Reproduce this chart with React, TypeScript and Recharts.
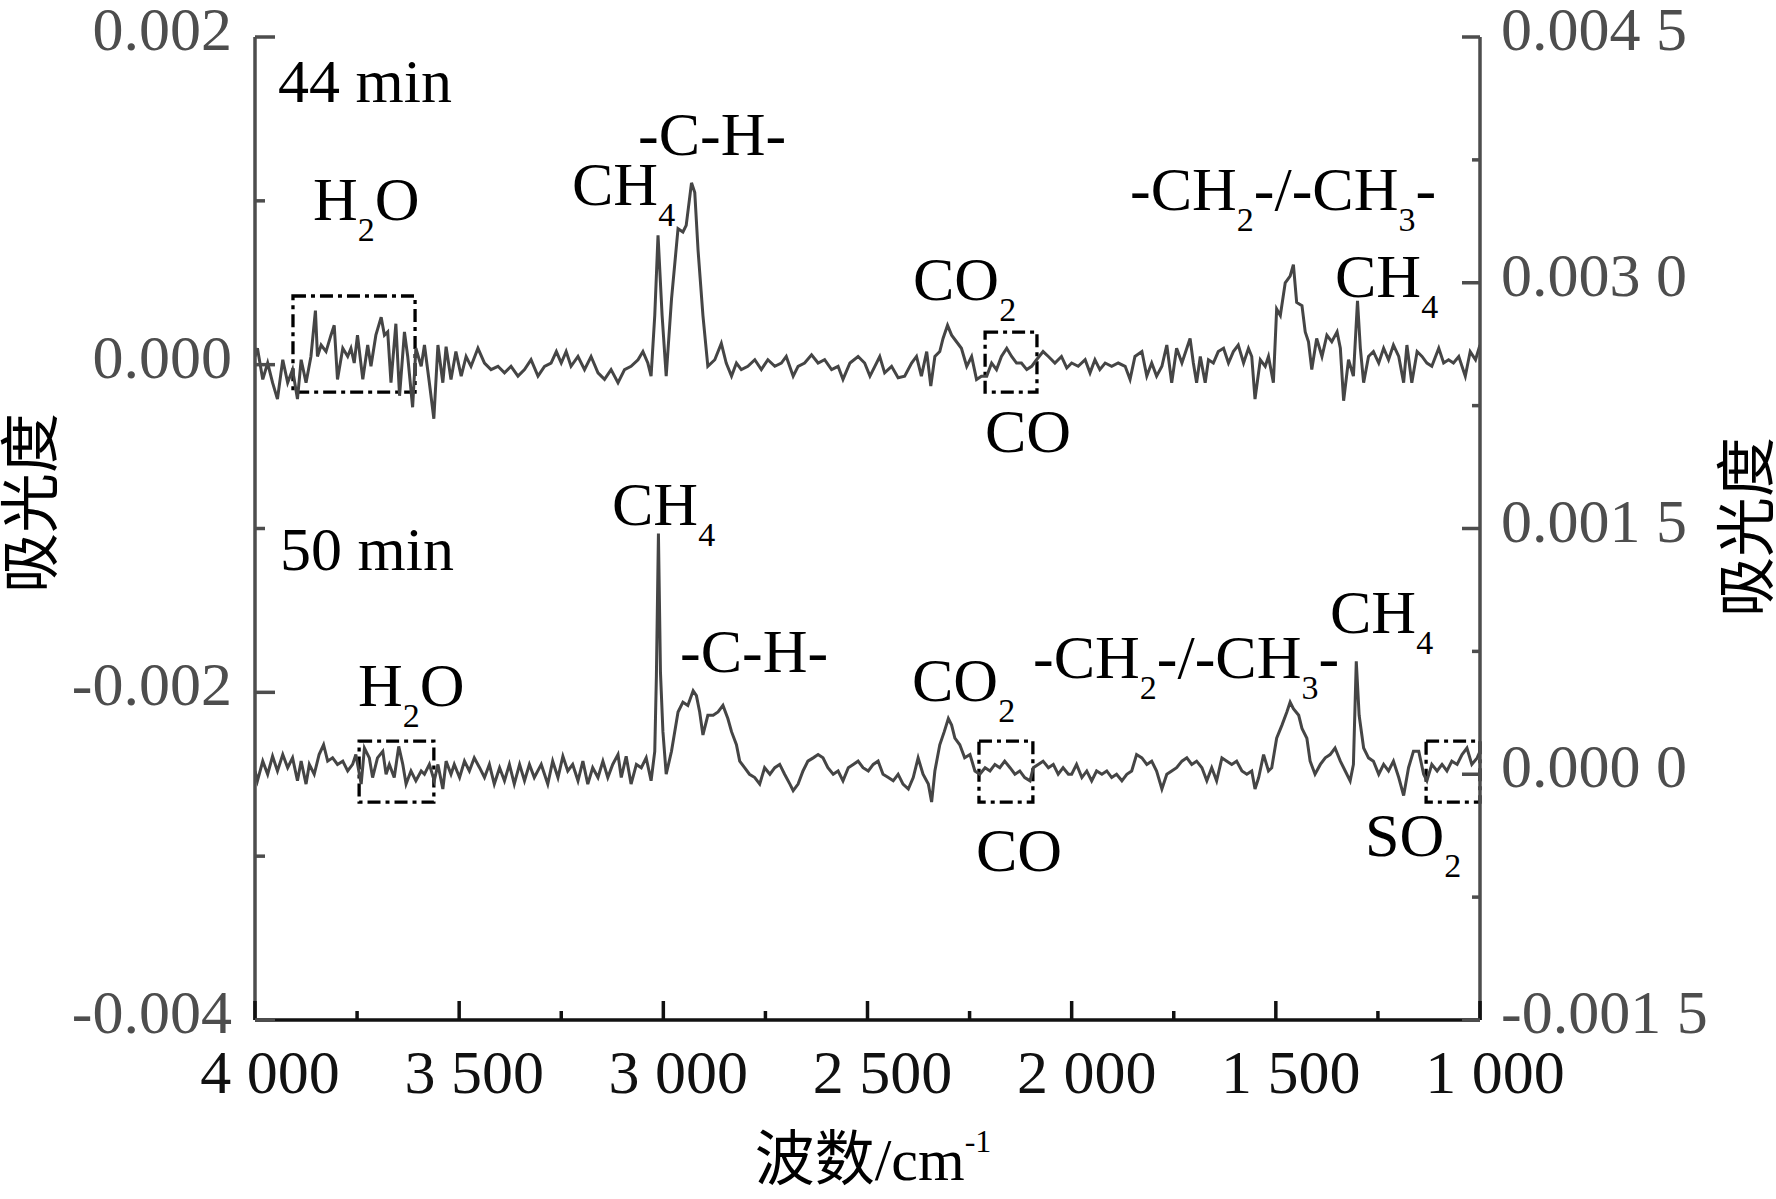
import React from 'react';
import { LineChart, Line, XAxis, YAxis, ReferenceArea } from 'recharts';

const W = 1776;
const H = 1199;
const SERIF = '"Liberation Serif", "Times New Roman", "Noto Sans CJK SC", serif';
const AXIS = '#4d4d4d';
const TRACE = '#454545';

// 44 min spectrum (absorbance x 1e-4, left axis)
const wn44 = [
  4000, 3994, 3981, 3969, 3957, 3945, 3932, 3920, 3908, 3896,
  3887, 3875, 3863, 3852, 3847, 3838, 3826, 3814, 3806, 3798,
  3785, 3773, 3765, 3757, 3749, 3736, 3724, 3716, 3704, 3691,
  3683, 3675, 3667, 3655, 3646, 3634, 3626, 3614, 3606, 3593,
  3585, 3573, 3562, 3552, 3540, 3532, 3520, 3508, 3495, 3483,
  3471, 3454, 3438, 3422, 3405, 3389, 3373, 3356, 3340, 3324,
  3307, 3291, 3275, 3262, 3250, 3238, 3226, 3209, 3193, 3177,
  3160, 3144, 3128, 3111, 3095, 3079, 3062, 3050, 3038, 3030,
  3021, 3013, 3003, 2993, 2980, 2964, 2952, 2944, 2931, 2923,
  2915, 2903, 2891, 2874, 2858, 2846, 2833, 2821, 2809, 2793,
  2776, 2760, 2744, 2727, 2711, 2699, 2682, 2670, 2654, 2637,
  2621, 2605, 2588, 2572, 2560, 2543, 2523, 2507, 2494, 2482,
  2470, 2458, 2441, 2425, 2409, 2392, 2380, 2368, 2355, 2345,
  2335, 2323, 2315, 2304, 2294, 2282, 2270, 2257, 2245, 2233,
  2221, 2208, 2196, 2184, 2172, 2159, 2147, 2135, 2123, 2110,
  2098, 2086, 2070, 2057, 2041, 2025, 2012, 2000, 1984, 1967,
  1955, 1943, 1931, 1918, 1902, 1886, 1869, 1857, 1845, 1828,
  1816, 1804, 1792, 1779, 1767, 1755, 1743, 1730, 1718, 1710,
  1702, 1694, 1685, 1673, 1665, 1653, 1641, 1628, 1616, 1604,
  1592, 1579, 1567, 1559, 1551, 1538, 1526, 1518, 1506, 1498,
  1489, 1477, 1465, 1457, 1449, 1436, 1428, 1420, 1412, 1400,
  1387, 1375, 1363, 1350, 1342, 1334, 1322, 1310, 1300, 1293,
  1285, 1273, 1261, 1248, 1236, 1224, 1212, 1199, 1187, 1179,
  1167, 1154, 1142, 1130, 1118, 1101, 1089, 1077, 1065, 1052,
  1036, 1024, 1011, 1000,
];
const abs44 = [
  0.5, 1.0, -0.9, 0.1, -1.1, -2.1, 0.3, -1.1, -0.3, -2.1,
  0.3, -1.1, 0.5, 3.3, 0.5, 1.2, 0.8, 1.8, 2.4, -0.9,
  1.0, 0.5, 1.0, 0.1, 1.8, -0.9, 1.2, -0.1, 1.8, 2.9,
  1.8, 2.0, -1.1, 2.5, -1.9, 2.0, 0.5, -2.6, 1.0, -0.1,
  1.2, -1.1, -3.3, 1.2, -1.1, 1.1, -0.9, 0.8, -0.7, 0.5,
  -0.1, 1.0, 0.1, -0.3, -0.1, -0.5, -0.1, -0.7, -0.3, 0.3,
  -0.7, -0.1, 0.1, 0.8, 0.1, 0.8, -0.1, 0.5, -0.3, 0.5,
  -0.5, -0.9, -0.3, -1.1, -0.3, -0.1, 0.3, 0.8, 0.1, -0.7,
  3.0, 7.9, 3.0, -0.7, 4.0, 8.3, 8.1, 8.5, 11.1, 10.5,
  7.0, 3.0, -0.1, 0.3, 1.3, 0.1, -0.7, 0.1, -0.3, -0.1,
  0.3, -0.3, 0.3, -0.1, 0.1, 0.5, -0.7, -0.1, 0.1, 0.6,
  0.1, 0.3, -0.3, -0.1, -0.9, 0.1, 0.5, 0.1, -0.7, -0.1,
  0.5, -0.5, -0.1, -0.8, -0.7, 0.1, 0.5, -0.7, 0.8, -1.3,
  0.5, 0.8, 1.6, 2.4, 1.8, 1.4, 1.0, -0.1, 0.5, -0.9,
  -0.7, -0.7, 0.1, -0.3, 0.5, 1.0, 0.5, 0.1, 0.1, -0.3,
  -0.1, 0.3, 0.8, 0.5, 0.1, 0.5, -0.2, 0.1, -0.1, 0.3,
  -0.5, 0.3, -0.3, 0.1, -0.1, 0.1, -0.1, -0.9, 0.5, 0.8,
  -0.7, 0.1, -0.7, -0.1, 1.2, -1.1, 1.0, 0.1, 1.0, 1.6,
  0.1, -1.1, 0.5, -1.1, 0.3, 0.1, 0.8, 1.0, 0.1, 0.8,
  1.2, 0.1, 1.0, 0.5, -2.1, 0.3, -0.1, 0.5, -1.1, 3.4,
  3.0, 5.0, 5.4, 6.1, 3.8, 3.6, 2.0, 1.4, -0.3, 1.6,
  0.5, 1.8, 1.4, 2.0, 1.0, -2.2, 0.3, -0.7, 3.9, 1.0,
  -1.1, 0.5, 0.8, 0.1, 1.0, 0.3, 1.2, 0.5, -1.1, 1.2,
  -1.1, 0.8, 0.5, 0.1, -0.1, 1.0, 0.1, 0.3, 0.1, 0.5,
  -0.7, 0.8, 0.3, 1.2,
];

// 50 min spectrum (absorbance x 1e-4, right axis)
const wn50 = [
  4000, 3994, 3981, 3969, 3957, 3945, 3932, 3920, 3908, 3896,
  3887, 3875, 3867, 3855, 3843, 3832, 3822, 3810, 3798, 3785,
  3773, 3761, 3753, 3740, 3732, 3720, 3712, 3700, 3687, 3679,
  3671, 3659, 3648, 3638, 3630, 3618, 3606, 3593, 3585, 3573,
  3561, 3552, 3540, 3532, 3520, 3512, 3499, 3487, 3475, 3463,
  3450, 3438, 3426, 3414, 3401, 3389, 3377, 3365, 3352, 3340,
  3328, 3316, 3299, 3283, 3271, 3258, 3246, 3234, 3222, 3209,
  3197, 3185, 3173, 3160, 3148, 3136, 3124, 3111, 3103, 3091,
  3079, 3066, 3054, 3042, 3030, 3021, 3017, 3012, 3007, 3001,
  2993, 2980, 2964, 2952, 2940, 2927, 2919, 2911, 2903, 2891,
  2878, 2866, 2854, 2842, 2833, 2821, 2813, 2801, 2789, 2776,
  2764, 2752, 2739, 2727, 2715, 2703, 2690, 2682, 2670, 2658,
  2646, 2633, 2621, 2609, 2597, 2584, 2572, 2560, 2547, 2535,
  2523, 2511, 2498, 2486, 2474, 2462, 2449, 2437, 2425, 2413,
  2400, 2388, 2376, 2364, 2351, 2343, 2335, 2323, 2312, 2302,
  2294, 2286, 2274, 2262, 2249, 2237, 2225, 2212, 2200, 2188,
  2176, 2164, 2151, 2139, 2127, 2115, 2102, 2094, 2082, 2070,
  2057, 2045, 2033, 2021, 2008, 2000, 1988, 1975, 1963, 1951,
  1939, 1926, 1914, 1902, 1890, 1877, 1865, 1853, 1841, 1828,
  1816, 1804, 1792, 1779, 1767, 1755, 1743, 1730, 1718, 1706,
  1694, 1681, 1669, 1657, 1645, 1632, 1620, 1608, 1596, 1583,
  1571, 1559, 1551, 1542, 1530, 1518, 1510, 1498, 1485, 1473,
  1465, 1457, 1444, 1436, 1424, 1416, 1404, 1391, 1379, 1367,
  1355, 1342, 1330, 1318, 1310, 1303, 1296, 1285, 1273, 1261,
  1248, 1236, 1224, 1212, 1199, 1187, 1175, 1163, 1150, 1138,
  1130, 1118, 1105, 1093, 1081, 1069, 1056, 1044, 1032, 1020,
  1007, 1000,
];
const abs50 = [
  0.2, -0.4, 0.8, 0.0, 1.1, 0.2, 1.2, 0.4, 1.0, -0.4,
  0.8, -0.6, 0.6, 0.0, 1.2, 1.8, 0.8, 1.0, 0.6, 0.8,
  0.2, 0.6, 1.2, -0.6, 1.6, 1.0, -0.2, 1.0, 1.4, 0.0,
  0.6, -0.2, 1.7, 0.6, -0.6, 0.2, -0.4, 0.2, 0.0, 0.6,
  -0.4, 0.6, -0.9, 0.8, 0.0, 0.6, -0.2, 0.8, 0.2, 1.0,
  0.4, -0.2, 0.6, -0.6, 0.4, -0.4, 0.6, -0.6, 0.6, -0.4,
  0.6, -0.2, 0.6, -0.6, 0.8, -0.2, 1.1, 0.2, 0.6, -0.4,
  0.8, -0.6, 0.4, -0.2, 0.8, -0.2, 0.6, 1.2, -0.2, 1.1,
  -0.6, 0.6, 0.4, 1.0, -0.4, 1.4, 6.0, 14.7, 6.2, 2.6,
  0.0, 1.4, 3.8, 4.4, 4.2, 5.1, 4.8, 3.8, 2.4, 3.6,
  3.6, 3.8, 4.2, 3.4, 2.6, 1.8, 0.8, 0.4, 0.0, -0.2,
  -0.6, 0.4, 0.0, 0.4, 0.6, 0.0, -0.6, -1.0, -0.6, 0.2,
  0.8, 1.0, 1.2, 1.0, 0.4, 0.0, 0.2, -0.4, 0.4, 0.6,
  0.8, 0.4, 0.2, 0.6, 0.8, 0.0, -0.2, -0.4, 0.0, -0.6,
  -0.9, -0.2, 1.0, 0.0, -0.6, -1.7, 0.2, 1.8, 2.6, 3.4,
  3.0, 2.2, 1.8, 1.0, 1.2, 0.2, 0.0, 0.4, 0.2, 0.6,
  0.4, 0.8, 0.4, 0.0, 0.2, -0.2, -0.4, 0.4, 0.6, 0.8,
  0.4, 0.6, 0.0, 0.4, 0.0, 0.0, 0.6, -0.2, 0.2, -0.4,
  0.2, 0.0, 0.2, -0.2, 0.0, -0.4, 0.0, 0.2, 1.2, 1.0,
  0.6, 0.8, 0.2, -0.9, 0.0, 0.2, 0.4, 0.8, 1.0, 0.6,
  0.8, 0.4, -0.4, 0.4, -0.4, 1.0, 0.8, 0.6, 0.8, 0.2,
  0.0, 0.2, -0.9, -0.2, 1.2, 0.2, 0.4, 2.2, 3.0, 3.8,
  4.4, 4.0, 3.6, 2.8, 2.2, 0.8, 0.0, 0.6, 1.0, 1.2,
  1.6, 0.8, 0.2, -0.4, 0.6, 6.9, 3.6, 1.6, 1.0, 0.8,
  0.0, 0.6, 0.2, 0.8, -0.2, -1.3, 0.4, 1.4, 1.4, 0.0,
  -0.4, 0.6, 0.2, 0.6, 0.2, 0.8, 0.6, 1.2, 1.6, 0.6,
  1.0, 1.4,
];

// axes
const xTicks = [4000, 3750, 3500, 3250, 3000, 2750, 2500, 2250, 2000, 1750, 1500, 1250, 1000];
const xMajor = [4000, 3500, 3000, 2500, 2000, 1500, 1000];
const xLabels = ['4 000', '3 500', '3 000', '2 500', '2 000', '1 500', '1 000'];

const leftTicks = [-0.004, -0.003, -0.002, -0.001, 0, 0.001, 0.002];
const leftMajor = [-0.004, -0.002, 0, 0.002];
const leftLabels = ['-0.004', '-0.002', '0.000', '0.002'];

const rightTicks = [-0.0015, -0.00075, 0, 0.00075, 0.0015, 0.00225, 0.003, 0.00375, 0.0045];
const rightMajor = [-0.0015, 0, 0.0015, 0.003, 0.0045];
const rightLabels = ['-0.001 5', '0.000 0', '0.001 5', '0.003 0', '0.004 5'];

// dash-dot marker boxes (wavenumber range, absorbance range)
const boxes = [
  { axis: 'left', from: 3907, to: 3608, low: -0.000167, high: 0.000419 },
  { axis: 'left', from: 2212, to: 2085, low: -0.000167, high: 0.000199 },
  { axis: 'right', from: 3745, to: 3562, low: -0.00017, high: 0.000202 },
  { axis: 'right', from: 2227, to: 2095, low: -0.00017, high: 0.000202 },
  { axis: 'right', from: 1132, to: 1000, low: -0.00017, high: 0.000202 },
];

// peak annotations ("_" puts the next character in subscript)
const notes = [
  { text: '44 min', x: 278, y: 102 },
  { text: 'H_2O', x: 313, y: 220 },
  { text: 'CH_4', x: 572, y: 205 },
  { text: '-C-H-', x: 638, y: 155 },
  { text: 'CO_2', x: 913, y: 300 },
  { text: 'CO', x: 985, y: 452 },
  { text: '-CH_2-/-CH_3-', x: 1130, y: 210 },
  { text: 'CH_4', x: 1335, y: 297 },
  { text: '50 min', x: 280, y: 570 },
  { text: 'CH_4', x: 612, y: 525 },
  { text: 'H_2O', x: 358, y: 706 },
  { text: '-C-H-', x: 680, y: 672 },
  { text: 'CO_2', x: 912, y: 701 },
  { text: '-CH_2-/-CH_3-', x: 1033, y: 678 },
  { text: 'CH_4', x: 1330, y: 633 },
  { text: 'CO', x: 976, y: 871 },
  { text: 'SO_2', x: 1365, y: 856 },
];

const rows44 = wn44.map((wn, i) => ({ wn, v: abs44[i] * 1e-4 }));
const rows50 = wn50.map((wn, i) => ({ wn, v: abs50[i] * 1e-4 }));

const findTick = (list: number[], v: number) => list.findIndex((t) => Math.abs(t - v) < 1e-9);

const LeftTick = (props: any) => {
  const { x, y, payload } = props;
  const i = findTick(leftMajor, payload.value);
  return (
    <g>
      <line x1={x} x2={x + (i >= 0 ? 20 : 10)} y1={y} y2={y} stroke={AXIS} strokeWidth={3.5} />
      {i >= 0 && (
        <text x={x - 23} y={y + 13} textAnchor="end" fontFamily={SERIF} fontSize={62} fill={AXIS}>
          {leftLabels[i]}
        </text>
      )}
    </g>
  );
};

const RightTick = (props: any) => {
  const { x, y, payload } = props;
  const i = findTick(rightMajor, payload.value);
  return (
    <g>
      <line x1={x} x2={x - (i >= 0 ? 18 : 8)} y1={y} y2={y} stroke={AXIS} strokeWidth={3.5} />
      {i >= 0 && (
        <text x={x + 21} y={y + 13} textAnchor="start" fontFamily={SERIF} fontSize={62} fill={AXIS}>
          {rightLabels[i]}
        </text>
      )}
    </g>
  );
};

const BottomTick = (props: any) => {
  const { x, y, payload } = props;
  const i = findTick(xMajor, payload.value);
  return (
    <g>
      <line x1={x} x2={x} y1={y} y2={y - (i >= 0 ? 19 : 9)} stroke="#111" strokeWidth={3.5} />
      {i >= 0 && (
        <text x={x + 15} y={y + 73} textAnchor="middle" fontFamily={SERIF} fontSize={62} fill="#111">
          {xLabels[i]}
        </text>
      )}
    </g>
  );
};

const Formula = ({ text, x, y }: { text: string; x: number; y: number }) => {
  const parts: { t: string; sub: boolean }[] = [];
  let buf = '';
  for (let k = 0; k < text.length; k++) {
    if (text[k] === '_') {
      if (buf) parts.push({ t: buf, sub: false });
      buf = '';
      parts.push({ t: text[k + 1], sub: true });
      k++;
    } else {
      buf += text[k];
    }
  }
  if (buf) parts.push({ t: buf, sub: false });
  let shifted = false;
  return (
    <text x={x} y={y} fontFamily={SERIF} fontSize={62} fill="#000">
      {parts.map((p, i) => {
        let dy = 0;
        if (p.sub && !shifted) dy = 21;
        if (!p.sub && shifted) dy = -21;
        shifted = p.sub;
        return (
          <tspan key={i} dy={dy} fontSize={p.sub ? 34 : 62}>
            {p.t}
          </tspan>
        );
      })}
    </text>
  );
};

const App: React.FC = () => {
  return (
    <div style={{ position: 'absolute', left: 0, top: 0, width: W, height: H, background: '#fff' }}>
      <LineChart width={W} height={H} margin={{ top: 37, right: 96, bottom: 59, left: 55 }}>
        <XAxis
          type="number"
          dataKey="wn"
          domain={[1000, 4000]}
          reversed
          ticks={xTicks}
          interval={0}
          height={120}
          tickSize={0}
          tickMargin={0}
          tickLine={false}
          axisLine={{ stroke: '#111', strokeWidth: 3.5 }}
          tick={<BottomTick />}
          allowDataOverflow
        />
        <YAxis
          yAxisId="left"
          orientation="left"
          type="number"
          domain={[-0.004, 0.002]}
          ticks={leftTicks}
          interval={0}
          width={200}
          tickSize={0}
          tickMargin={0}
          tickLine={false}
          axisLine={{ stroke: AXIS, strokeWidth: 3.5 }}
          tick={<LeftTick />}
          allowDataOverflow
        />
        <YAxis
          yAxisId="right"
          orientation="right"
          type="number"
          domain={[-0.0015, 0.0045]}
          ticks={rightTicks}
          interval={0}
          width={200}
          tickSize={0}
          tickMargin={0}
          tickLine={false}
          axisLine={{ stroke: AXIS, strokeWidth: 3.5 }}
          tick={<RightTick />}
          allowDataOverflow
        />
        {boxes.map((b, i) => (
          <ReferenceArea
            key={i}
            yAxisId={b.axis}
            x1={b.from}
            x2={b.to}
            y1={b.low}
            y2={b.high}
            fill="none"
            fillOpacity={0}
            stroke="#000"
            strokeWidth={3.3}
            strokeDasharray="13 5 4 5"
            ifOverflow="visible"
          />
        ))}
        <Line
          yAxisId="left"
          data={rows44}
          dataKey="v"
          type="linear"
          stroke={TRACE}
          strokeWidth={3}
          dot={false}
          isAnimationActive={false}
        />
        <Line
          yAxisId="right"
          data={rows50}
          dataKey="v"
          type="linear"
          stroke={TRACE}
          strokeWidth={3}
          dot={false}
          isAnimationActive={false}
        />
      </LineChart>
      <svg
        width={W}
        height={H}
        style={{ position: 'absolute', left: 0, top: 0, pointerEvents: 'none' }}
      >
        {notes.map((n, i) => (
          <Formula key={i} text={n.text} x={n.x} y={n.y} />
        ))}
        <text
          transform="translate(32, 503) rotate(-90)"
          textAnchor="middle"
          dominantBaseline="central"
          fontFamily={SERIF}
          fontSize={60}
          fill="#000"
        >
          吸光度
        </text>
        <text
          transform="translate(1748, 527) rotate(-90)"
          textAnchor="middle"
          dominantBaseline="central"
          fontFamily={SERIF}
          fontSize={60}
          fill="#000"
        >
          吸光度
        </text>
        <text x={873} y={1180} textAnchor="middle" fontFamily={SERIF} fontSize={60} fill="#000">
          波数/cm
          <tspan fontSize={32} dy={-28}>
            -1
          </tspan>
        </text>
      </svg>
    </div>
  );
};

export default App;
